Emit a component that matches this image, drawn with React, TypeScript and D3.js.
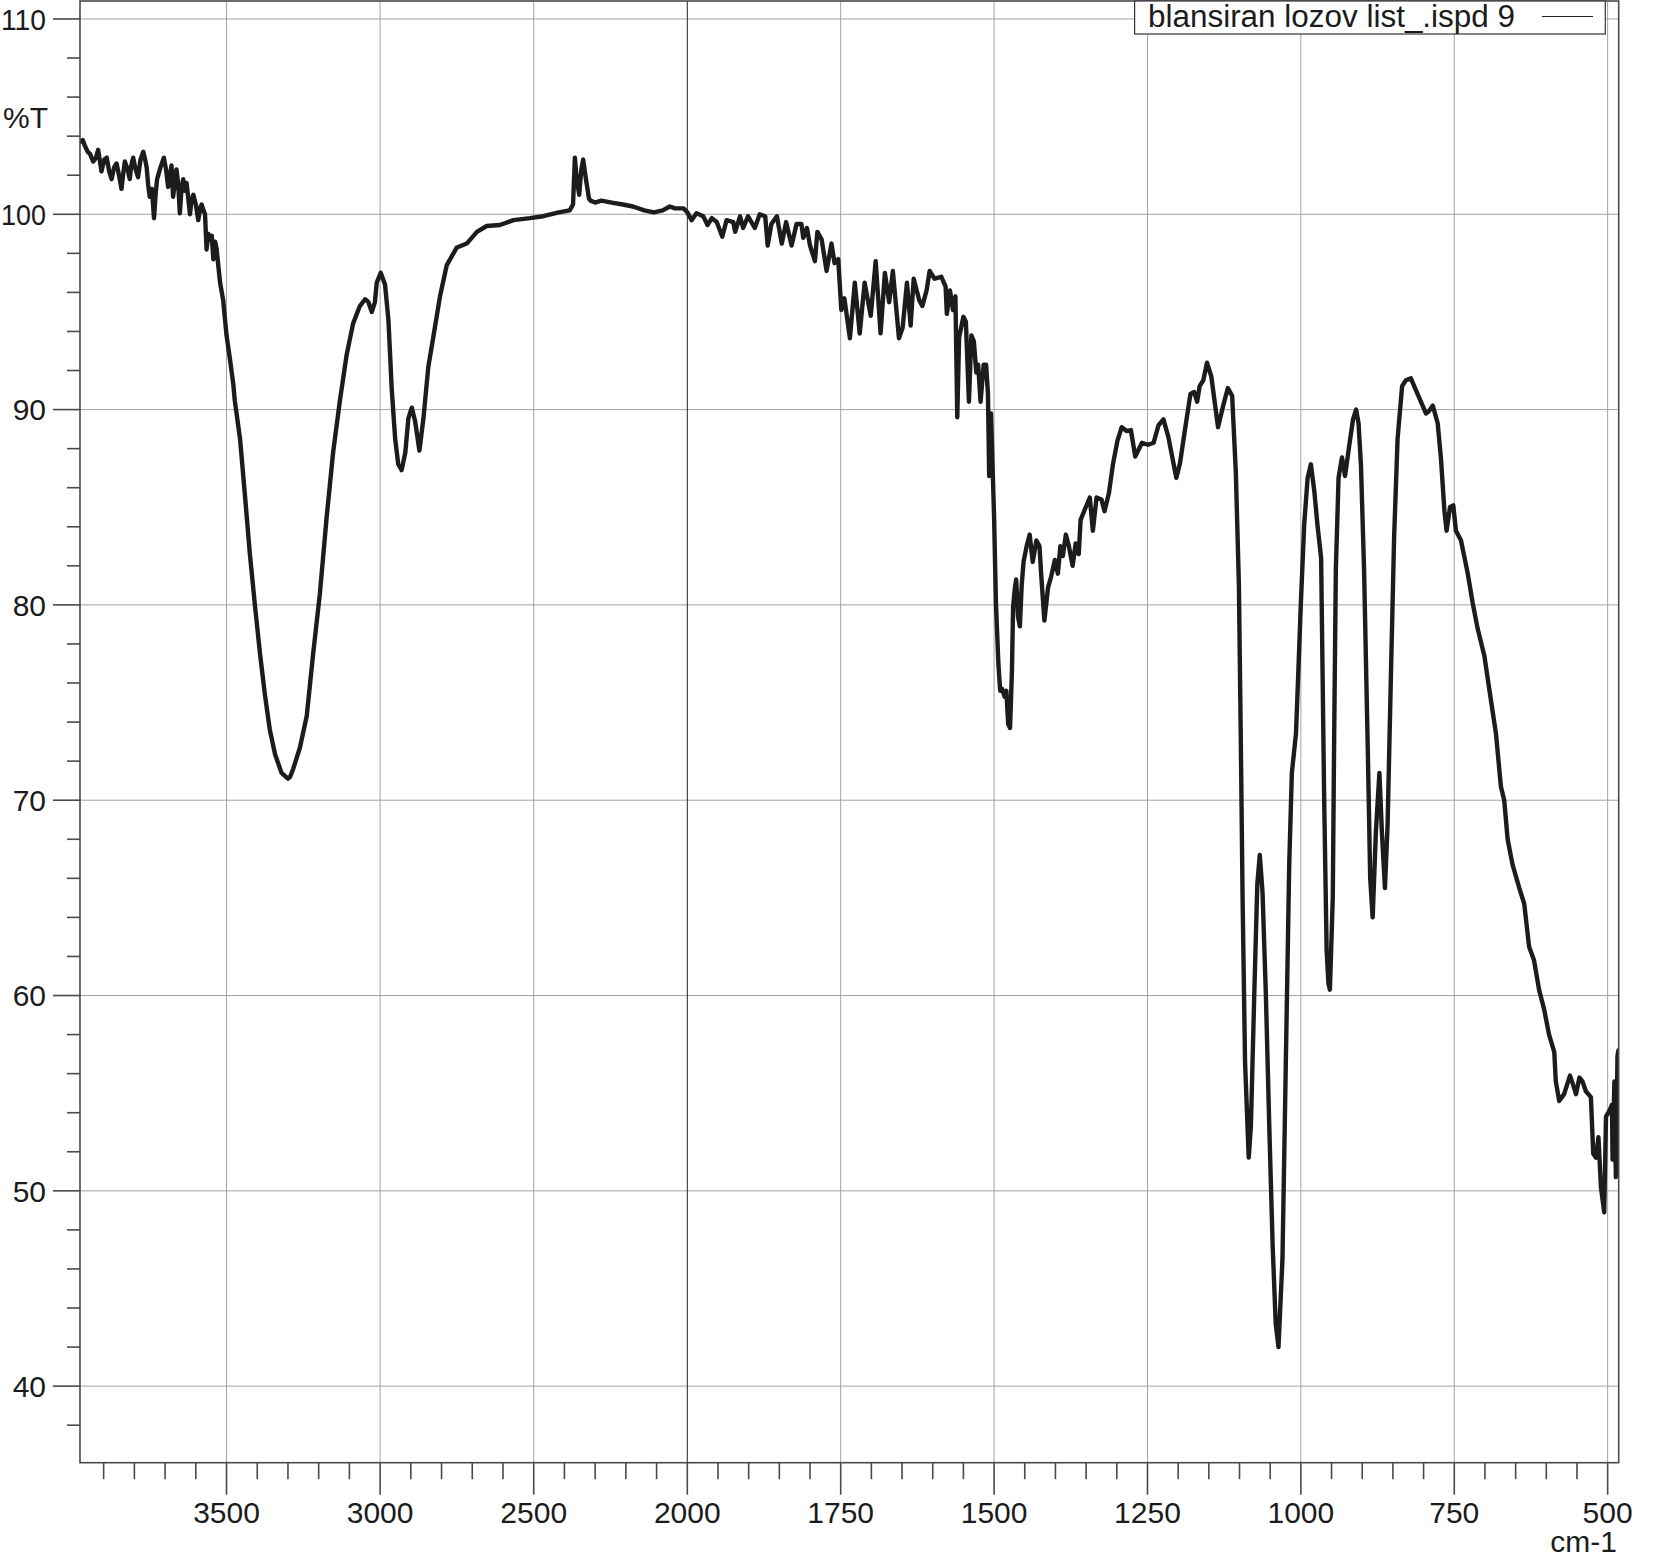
import React from "react";
import * as d3 from "d3";

// ---- data: [wavenumber cm-1, %T] ----
const regionOH: [number, number][] = [
  [3977,103.7],[3968,103.8],[3961,103.5],[3952,103.2],[3945,103.1],[3934,102.7],[3925,102.9],[3918,103.3],[3907,102.2],[3898,102.8],[3890,102.9],[3882,102.2],[3874,101.8],[3866,102.4],[3858,102.6],[3850,102.0],[3842,101.3],[3836,102.1],[3831,102.7],[3822,102.3],[3815,101.8],[3810,102.5],[3804,102.9],[3796,102.3],[3788,101.9],[3780,102.8],[3771,103.2],[3765,102.8],[3760,102.4],[3755,101.5],[3750,100.9],[3743,101.3],[3736,99.8],[3731,101.0],[3726,101.8],[3715,102.4],[3704,102.9],[3697,102.3],[3690,101.4],[3684,102.0],[3679,102.5],[3674,100.9],[3668,101.6],[3663,102.3],[3657,101.5],[3652,100.05],[3647,101.2],[3641,101.8],[3635,101.2],[3630,101.6],[3625,100.9],[3619,100.0],[3614,100.7],[3608,101.0],[3600,100.5],[3592,99.7],[3586,100.3],[3581,100.5],[3575,100.2],[3570,100.0],[3565,98.2],[3559,99.0],[3554,98.7],[3548,98.9],[3543,97.7],[3537,98.6],[3532,98.2],[3527,97.4],[3521,96.5],[3511,95.6],[3500,93.8],
];

const regionCH: [number, number][] = [
  [3489,92.6],[3478,91.3],[3473,90.45],[3456,88.5],[3440,85.6],[3424,82.6],[3407,79.9],[3391,77.5],[3375,75.4],[3359,73.6],[3342,72.35],[3321,71.4],[3300,71.1],[3293,71.2],[3283,71.6],[3261,72.7],[3239,74.3],[3218,77.5],[3196,80.6],[3174,84.5],[3153,87.8],[3131,90.45],[3109,92.8],[3088,94.4],[3066,95.3],[3049,95.65],[3038,95.5],[3027,95.0],[3017,95.5],[3011,96.5],[2998,97.0],[2984,96.4],[2973,94.6],[2962,91.0],[2951,88.5],[2941,87.2],[2930,86.9],[2918,87.8],[2908,89.55],[2897,90.1],[2886,89.4],[2872,87.9],[2859,89.55],[2843,92.2],[2827,93.7],[2805,95.8],[2783,97.4],[2765,97.9],[2750,98.3],[2718,98.5],[2685,99.1],[2653,99.4],[2610,99.45],[2566,99.7],[2512,99.8],
];

const regionCO2: [number, number][] = [
  [2469,99.9],[2418,100.1],[2383,100.2],[2372,100.5],[2366,102.9],[2360,101.8],[2352,101.0],[2345,102.3],[2339,102.8],[2330,101.8],[2320,100.8],[2315,100.7],[2300,100.6],[2280,100.7],[2246,100.6],[2210,100.5],[2177,100.4],[2140,100.2],[2109,100.1],[2080,100.2],[2057,100.4],[2040,100.3],[2023,100.3],[2012,100.3],[2000,100.1],
];

const regionAmide: [number, number][] = [
  [1993,99.7],[1985,100.05],[1974,99.9],[1967,99.45],[1960,99.8],[1952,99.6],[1943,98.85],[1936,99.7],[1925,99.6],[1922,99.1],[1914,99.9],[1909,99.3],[1901,99.9],[1890,99.3],[1882,100.0],[1873,99.9],[1869,98.4],[1863,99.5],[1854,99.9],[1846,98.5],[1839,99.6],[1830,98.4],[1822,99.5],[1814,99.5],[1811,98.8],[1805,99.3],[1800,98.4],[1792,97.6],[1788,99.1],[1781,98.7],[1773,97.1],[1765,98.5],[1760,97.5],[1754,97.7],[1749,95.1],[1744,95.7],[1735,93.65],[1727,96.5],[1719,93.9],[1711,96.5],[1701,94.8],[1693,97.6],[1685,93.9],[1678,97.0],[1671,95.5],[1665,97.1],[1655,93.65],[1649,94.2],[1642,96.5],[1636,94.3],[1631,96.7],[1622,95.6],[1617,95.3],[1610,96.1],[1605,97.1],[1597,96.7],[1586,96.8],[1579,96.3],[1577,94.9],[1572,96.1],[1567,95.1],[1563,95.8],[1560,89.6],[1557,93.7],[1550,94.75],[1546,94.5],[1541,90.4],[1537,93.8],[1533,93.5],[1529,91.9],[1526,92.3],[1522,90.4],[1517,92.3],[1513,92.3],[1510,90.8],[1508,86.6],[1505,89.8],[1502,86.6],[1500,84.5],
];

const regionFingerprint: [number, number][] = [
  [1497,80.1],[1493,77.0],[1490,75.6],[1487,75.7],[1483,75.3],[1480,75.6],[1477,73.9],[1474,73.7],[1471,76.5],[1469,79.9],[1466,80.9],[1464,81.3],[1461,79.4],[1458,78.9],[1455,81.0],[1452,82.2],[1447,83.0],[1442,83.6],[1437,82.2],[1431,83.3],[1426,83.0],[1423,81.45],[1418,79.2],[1412,80.9],[1407,81.45],[1401,82.3],[1396,81.6],[1392,83.0],[1388,82.5],[1383,83.6],[1378,83.0],[1372,82.0],[1367,83.15],[1362,82.6],[1359,84.35],[1352,84.9],[1344,85.5],[1339,83.8],[1333,85.5],[1325,85.4],[1320,84.8],[1313,85.7],[1306,87.25],[1299,88.4],[1292,89.1],[1284,88.9],[1277,88.95],[1270,87.6],[1259,88.3],[1249,88.2],[1240,88.3],[1232,89.2],[1224,89.5],[1216,88.6],[1203,86.5],[1197,87.25],[1189,88.95],[1180,90.8],[1174,90.9],[1169,90.4],[1165,91.2],[1159,91.5],[1153,92.4],[1146,91.7],[1135,89.1],[1127,90.15],[1119,91.1],[1112,90.7],[1106,86.8],[1101,81.0],[1098,73.4],[1095,65.0],[1091,56.6],[1085,51.7],[1081.5,53.3],[1076,60.0],[1071,65.7],[1067,67.2],[1062.5,65.3],[1057,60.0],[1051.5,53.3],[1046,47.2],[1041,43.2],[1036.5,42.0],[1030,46.5],[1024.5,56.6],[1019,66.7],[1014.7,71.4],[1008,73.4],[1004,76.7],[1000,80.1],
];

const regionLow: [number, number][] = [
  [994.6,84.1],[989,86.5],[983.7,87.2],[978,85.8],[973,84.1],[967,82.4],[964.7,76.7],[962,70.0],[958,62.3],[955,60.6],[952.7,60.3],[948,65.0],[945.7,73.4],[943,81.8],[938.6,86.5],[933,87.55],[928,86.6],[921,88.2],[915,89.5],[910,90.0],[906,89.3],[902,87.1],[897,81.8],[891,72.7],[887,66.0],[883,64.0],[877.7,68.4],[872,71.4],[868,68.4],[863,65.5],[858.7,68.7],[853,76.7],[848,83.5],[842.4,88.5],[835,91.2],[828.8,91.5],[820.7,91.6],[812.5,91.0],[801.6,90.2],[796,89.8],[791.8,89.9],[785,90.2],[777,89.3],[771.7,87.5],[766,84.8],[762.5,83.8],[757,85.0],[751.6,85.1],[747.3,83.8],[739,83.3],[728,81.6],[720,80.1],[712,78.8],[701,77.4],[693,75.7],[682,73.4],[674,70.7],[668.6,70.0],[663,68.0],[655,66.7],[644,65.5],[636,64.7],[628,62.5],[620,61.8],[611.8,60.3],[603.6,59.3],[595.5,58.0],[587,57.1],[584.5,55.6],[579,54.6],[571,54.95],[561.4,55.9],[556,55.4],[551.6,54.95],[546,55.8],[541,55.6],[535.5,55.1],[527.3,54.8],[523.5,51.9],[519,51.7],[515,52.75],[511,50.2],[505.6,48.9],[502.7,53.8],[497.3,54.1],[493,54.4],[492,51.6],[489,55.6],[486.6,50.7],[484,56.9],[482.3,57.2],
];

const xMajorTicks = [3500, 3000, 2500, 2000, 1750, 1500, 1250, 1000, 750, 500];
const yMajorTicks = [110, 100, 90, 80, 70, 60, 50, 40];
const legendLabel = "blansiran lozov list_.ispd 9";
const xUnit = "cm-1";
const yUnit = "%T";

const W = 1654;
const H = 1559;
const L = 80;
const R = 1618.7;
const T = 1;
const B = 1462.7;
const FONT = "'Liberation Sans', Arial, Helvetica, sans-serif";

export default function App() {
  const x = d3.scaleLinear().domain([3977, 2000, 482]).range([L, 687.3, R]);
  const y = d3.scaleLinear().domain([36.08, 110.92]).range([B, T]);

  const spectrum = [
    ...regionOH,
    ...regionCH,
    ...regionCO2,
    ...regionAmide,
    ...regionFingerprint,
    ...regionLow,
  ];
  const line = d3
    .line<[number, number]>()
    .x((d) => x(d[0]))
    .y((d) => y(d[1]));

  const minorX: number[] = [];
  for (let v = 3900; v > 2000; v -= 100) if (!xMajorTicks.includes(v)) minorX.push(v);
  for (let v = 1950; v > 500; v -= 50) if (!xMajorTicks.includes(v)) minorX.push(v);
  const minorY: number[] = [];
  for (let v = 38; v <= 110; v += 2) if (!yMajorTicks.includes(v)) minorY.push(v);

  const gridColor = "#a3a3a3";
  const axisColor = "#4a4a4a";
  const textColor = "#1b1b1b";

  return (
    <svg
      width={W}
      height={H}
      style={{ position: "absolute", left: 0, top: 0, background: "#fff" }}
      fontFamily={FONT}
    >
      <rect x={0} y={0} width={W} height={H} fill="#fff" />
      <defs>
        <clipPath id="plot">
          <rect x={L} y={T} width={R - L} height={B - T} />
        </clipPath>
      </defs>
      {/* grid */}
      {yMajorTicks.map((v) => (
        <line key={"gy" + v} x1={L} x2={R} y1={y(v)} y2={y(v)} stroke={gridColor} strokeWidth={1} />
      ))}
      {xMajorTicks.map((v) => (
        <line
          key={"gx" + v}
          x1={x(v)}
          x2={x(v)}
          y1={T}
          y2={B}
          stroke={v === 2000 ? "#222" : gridColor}
          strokeWidth={1}
        />
      ))}
      {/* spectrum */}
      <path
        d={line(spectrum) || ""}
        fill="none"
        stroke="#1c1c1c"
        strokeWidth={4.4}
        strokeLinejoin="round"
        strokeLinecap="round"
        clipPath="url(#plot)"
      />
      {/* frame */}
      <rect x={L} y={T} width={R - L} height={B - T} fill="none" stroke={axisColor} strokeWidth={1.6} />
      {/* y ticks */}
      {yMajorTicks.map((v) => (
        <g key={"yt" + v}>
          <line x1={53} x2={L} y1={y(v)} y2={y(v)} stroke={axisColor} strokeWidth={1.6} />
          <text
            x={46}
            y={y(v)}
            dy="0.36em"
            textAnchor="end"
            fontSize={30}
            fill={textColor}
            textLength={v >= 100 ? 45 : undefined}
            lengthAdjust={v >= 100 ? "spacingAndGlyphs" : undefined}
          >
            {v}
          </text>
        </g>
      ))}
      {minorY.map((v) => (
        <line key={"ym" + v} x1={67} x2={L} y1={y(v)} y2={y(v)} stroke={axisColor} strokeWidth={1.6} />
      ))}
      {/* x ticks */}
      {xMajorTicks.map((v) => (
        <g key={"xt" + v}>
          <line x1={x(v)} x2={x(v)} y1={B} y2={B + 32} stroke={axisColor} strokeWidth={1.6} />
          <text x={x(v)} y={1523} textAnchor="middle" fontSize={30} fill={textColor}>
            {v}
          </text>
        </g>
      ))}
      {minorX.map((v) => (
        <line key={"xm" + v} x1={x(v)} x2={x(v)} y1={B} y2={B + 16.5} stroke={axisColor} strokeWidth={1.6} />
      ))}
      <text x={1617} y={1552} textAnchor="end" fontSize={30} fill={textColor}>
        {xUnit}
      </text>
      <text x={3} y={128} fontSize={30} fill={textColor}>
        {yUnit}
      </text>
      {/* legend */}
      <rect x={1134.6} y={1} width={470.7} height={33} fill="#fff" stroke="#333" strokeWidth={1.2} />
      <text x={1148} y={27} fontSize={31} fill={textColor} textLength={367} lengthAdjust="spacingAndGlyphs">
        {legendLabel}
      </text>
      <line x1={1542} x2={1593} y1={16.5} y2={16.5} stroke="#222" strokeWidth={1.2} />
    </svg>
  );
}
